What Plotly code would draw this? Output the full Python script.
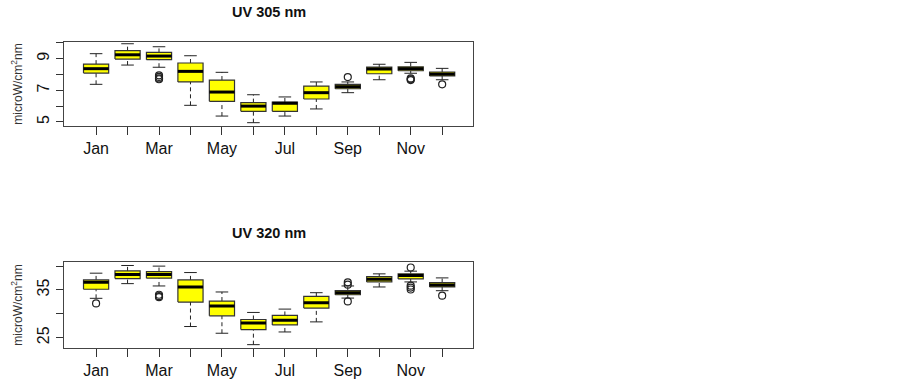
import plotly.graph_objects as go

months = ["Jan", "Feb", "Mar", "Apr", "May", "Jun", "Jul", "Aug", "Sep", "Oct", "Nov", "Dec"]
month_label_idx = [1, 3, 5, 7, 9, 11]
month_labels = ["Jan", "Mar", "May", "Jul", "Sep", "Nov"]
month_unlabeled_idx = [2, 4, 6, 8, 10, 12]

# UV 305 nm
uv305_wlo = [7.38, 8.60, 8.46, 6.05, 5.37, 4.95, 5.37, 5.82, 6.85, 7.67, 8.08, 7.67]
uv305_q1 = [8.09, 8.98, 8.94, 7.53, 6.30, 5.67, 5.67, 6.45, 7.10, 8.05, 8.24, 7.91]
uv305_med = [8.37, 9.25, 9.17, 8.20, 6.89, 6.00, 6.18, 6.85, 7.23, 8.35, 8.37, 8.03]
uv305_q3 = [8.66, 9.51, 9.40, 8.73, 7.65, 6.22, 6.26, 7.27, 7.38, 8.47, 8.49, 8.16]
uv305_whi = [9.32, 9.95, 9.76, 9.19, 8.14, 6.72, 6.58, 7.53, 7.53, 8.65, 8.77, 8.39]
uv305_out_month = [3, 3, 3, 3, 9, 11, 11, 11, 12]
uv305_out_val = [7.95, 7.85, 7.75, 7.70, 7.84, 7.75, 7.70, 7.65, 7.38]
uv305_yticks = [5, 7, 9]
uv305_yminor = [6, 8, 10]

# UV 320 nm
uv320_wlo = [33.25, 36.33, 35.84, 27.34, 25.93, 23.54, 26.20, 28.31, 33.30, 35.63, 36.69, 34.85]
uv320_q1 = [35.15, 37.39, 37.47, 32.47, 29.58, 26.70, 27.68, 31.20, 34.00, 36.69, 37.32, 35.63]
uv320_med = [36.62, 38.23, 38.23, 35.63, 31.62, 28.10, 28.67, 32.32, 34.43, 37.26, 38.02, 36.05]
uv320_q3 = [37.11, 39.00, 38.86, 37.11, 32.68, 28.81, 29.66, 33.67, 34.85, 37.81, 38.38, 36.55]
uv320_whi = [38.52, 40.13, 40.00, 38.65, 34.58, 30.29, 30.99, 34.43, 35.84, 38.38, 38.94, 37.53]
uv320_out_month = [1, 3, 3, 3, 9, 9, 9, 11, 11, 11, 11, 12]
uv320_out_val = [32.19, 34.00, 33.70, 33.50, 36.60, 36.10, 32.60, 39.71, 35.90, 35.50, 35.10, 33.80]
uv320_yticks = [25, 35]
uv320_yminor = [30, 40]

fig = go.Figure()

HW = 0.4   # half box width
SW = 0.2   # half staple width


def add_panel(xa, ya, wlo, q1, med, q3, whi, om, ov):
    xs = list(range(1, len(months) + 1))
    bx, by, mx, my, wx, wy, sx, sy = [], [], [], [], [], [], [], []
    for x, a, b, c, d, e in zip(xs, wlo, q1, med, q3, whi):
        bx += [x - HW, x + HW, x + HW, x - HW, x - HW, None]
        by += [b, b, d, d, b, None]
        mx += [x - HW, x + HW, None]
        my += [c, c, None]
        wx += [x, x, None, x, x, None]
        wy += [a, b, None, d, e, None]
        sx += [x - SW, x + SW, None, x - SW, x + SW, None]
        sy += [a, a, None, e, e, None]
    common = dict(xaxis=xa, yaxis=ya, showlegend=False, hoverinfo="skip")
    fig.add_trace(go.Scatter(x=wx, y=wy, mode="lines",
                             line=dict(color="#222", width=1, dash="4px,3px"), **common))
    fig.add_trace(go.Scatter(x=sx, y=sy, mode="lines",
                             line=dict(color="#222", width=1), **common))
    fig.add_trace(go.Scatter(x=bx, y=by, mode="lines", fill="toself", fillcolor="#FFFF00",
                             line=dict(color="#333", width=1.2), **common))
    fig.add_trace(go.Scatter(x=mx, y=my, mode="lines",
                             line=dict(color="black", width=3), **common))
    fig.add_trace(go.Scatter(x=om, y=ov, mode="markers",
                             marker=dict(symbol="circle-open", size=7, color="#222",
                                         line=dict(width=1.2)), **common))


add_panel("x", "y", uv305_wlo, uv305_q1, uv305_med, uv305_q3, uv305_whi,
          uv305_out_month, uv305_out_val)
add_panel("x2", "y2", uv320_wlo, uv320_q1, uv320_med, uv320_q3, uv320_whi,
          uv320_out_month, uv320_out_val)

W, H = 903, 383


def px(p):
    return p / W


def py(p):
    return 1 - p / H


x0, x1 = px(64), px(473)
font = "Liberation Sans, Arial, sans-serif"

xaxis_common = dict(
    range=[-0.02, 12.98], tickmode="array", tickvals=month_label_idx,
    ticktext=month_labels, ticks="outside", ticklen=8, tickwidth=1, tickcolor="#333",
    minor=dict(tickmode="array", tickvals=month_unlabeled_idx, ticks="outside", ticklen=8,
               tickwidth=1, tickcolor="#333", showgrid=False),
    showgrid=False, zeroline=False, showline=True, linecolor="#444", linewidth=1.2,
    mirror=True, tickfont=dict(family=font, size=16, color="#111"), domain=[x0, x1],
)
yaxis_common = dict(
    ticks="outside", ticklen=7, tickwidth=1, tickcolor="#333", showgrid=False,
    zeroline=False, showline=True, linecolor="#444", linewidth=1.2, mirror=True,
    tickangle=-90, tickfont=dict(family=font, size=16, color="#111"),
    title=dict(text="microW/cm<sup>2</sup>nm", font=dict(family=font, size=12, color="#333"),
               standoff=10),
)


def yminor(vals):
    return dict(tickmode="array", tickvals=vals, ticks="outside", ticklen=7,
                tickwidth=1, tickcolor="#333", showgrid=False)


fig.update_layout(
    width=W, height=H, margin=dict(l=0, r=0, t=0, b=0),
    paper_bgcolor="white", plot_bgcolor="white",
    xaxis=dict(anchor="y", **xaxis_common),
    yaxis=dict(anchor="x", domain=[py(126), py(42)], range=[4.74, 10.06],
               tickmode="array", tickvals=uv305_yticks,
               ticktext=[str(v) for v in uv305_yticks], minor=yminor(uv305_yminor),
               **yaxis_common),
    xaxis2=dict(anchor="y2", **xaxis_common),
    yaxis2=dict(anchor="x2", domain=[py(347.7), py(262.3)], range=[22.9, 40.8],
                tickmode="array", tickvals=uv320_yticks,
                ticktext=[str(v) for v in uv320_yticks], minor=yminor(uv320_yminor),
                **yaxis_common),
    annotations=[
        dict(text="<b>UV 305 nm</b>", x=(x0 + x1) / 2, y=py(12), xref="paper", yref="paper",
             xanchor="center", yanchor="middle",
             showarrow=False, font=dict(family=font, size=14.5, color="#111")),
        dict(text="<b>UV 320 nm</b>", x=(x0 + x1) / 2, y=py(233), xref="paper", yref="paper",
             xanchor="center", yanchor="middle",
             showarrow=False, font=dict(family=font, size=14.5, color="#111")),
    ],
)

fig.write_html("out.html", config={"displayModeBar": False, "staticPlot": True},
               post_script="document.body.style.margin='0';document.body.style.padding='0';")
